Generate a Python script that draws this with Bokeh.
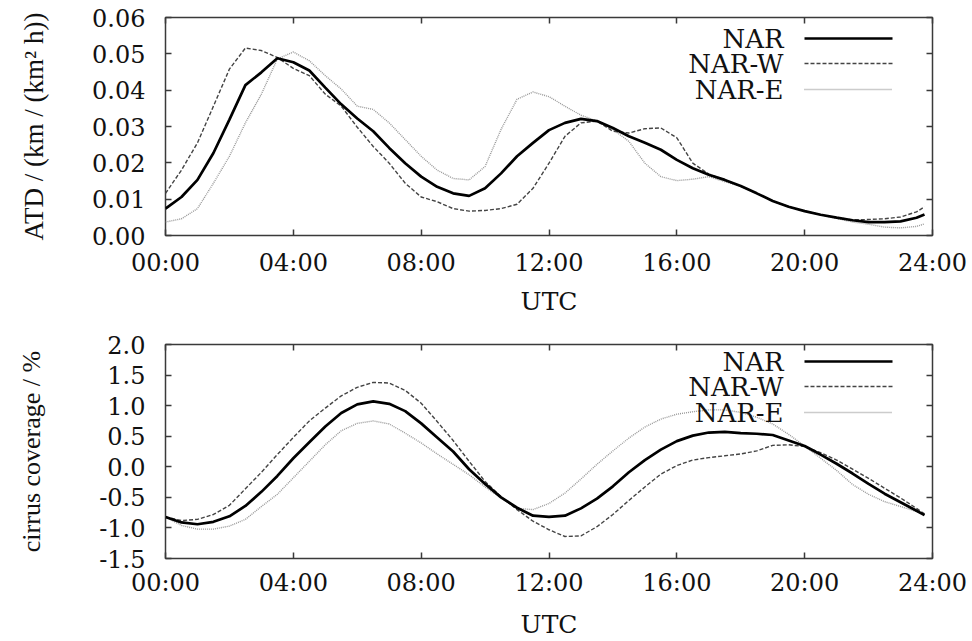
from bokeh.plotting import figure
from bokeh.models import FixedTicker, LinearAxis, Label, Arrow, Range1d, ColumnDataSource
from bokeh.layouts import column
from bokeh.embed import file_html
from bokeh.resources import INLINE

# ---------------- data ----------------
hours = [0.0, 0.5, 1.0, 1.5, 2.0, 2.5, 3.0, 3.5, 4.0, 4.5,
         5.0, 5.5, 6.0, 6.5, 7.0, 7.5, 8.0, 8.5, 9.0, 9.5,
         10.0, 10.5, 11.0, 11.5, 12.0, 12.5, 13.0, 13.5, 14.0, 14.5,
         15.0, 15.5, 16.0, 16.5, 17.0, 17.5, 18.0, 18.5, 19.0, 19.5,
         20.0, 20.5, 21.0, 21.5, 22.0, 22.5, 23.0, 23.5, 23.75]

series_names = ["NAR", "NAR-W", "NAR-E"]

atd_nar = [0.0074, 0.0106, 0.0153, 0.0227, 0.0319, 0.0414, 0.0449, 0.0488, 0.0477, 0.0454,
           0.0407, 0.0361, 0.0322, 0.0287, 0.0241, 0.0199, 0.0162, 0.0134, 0.0116, 0.0109,
           0.0130, 0.0171, 0.0218, 0.0255, 0.0290, 0.0310, 0.0321, 0.0315, 0.0296, 0.0273,
           0.0255, 0.0236, 0.0208, 0.0185, 0.0167, 0.0153, 0.0136, 0.0116, 0.0095, 0.0079,
           0.0067, 0.0057, 0.0049, 0.0042, 0.0037, 0.0037, 0.0039, 0.0049, 0.0058]
atd_w = [0.0116, 0.0180, 0.0255, 0.0356, 0.0458, 0.0516, 0.0509, 0.0490, 0.0460, 0.0440,
         0.0389, 0.0356, 0.0298, 0.0245, 0.0199, 0.0144, 0.0106, 0.0093, 0.0074, 0.0067,
         0.0069, 0.0074, 0.0086, 0.0130, 0.0199, 0.0273, 0.0310, 0.0315, 0.0287, 0.0282,
         0.0294, 0.0296, 0.0269, 0.0199, 0.0169, 0.0153, 0.0136, 0.0116, 0.0095, 0.0079,
         0.0067, 0.0057, 0.0049, 0.0043, 0.0044, 0.0046, 0.0051, 0.0065, 0.0079]
atd_e = [0.0037, 0.0046, 0.0074, 0.0144, 0.0218, 0.0310, 0.0389, 0.0486, 0.0505, 0.0481,
         0.0440, 0.0403, 0.0356, 0.0347, 0.0310, 0.0264, 0.0218, 0.0180, 0.0157, 0.0153,
         0.0190, 0.0292, 0.0375, 0.0395, 0.0382, 0.0356, 0.0331, 0.0315, 0.0292, 0.0259,
         0.0199, 0.0162, 0.0151, 0.0155, 0.0162, 0.0148, 0.0136, 0.0116, 0.0095, 0.0079,
         0.0067, 0.0057, 0.0047, 0.0037, 0.0031, 0.0023, 0.0021, 0.0025, 0.0032]

cc_nar = [-0.82, -0.91, -0.94, -0.90, -0.81, -0.64, -0.41, -0.15, 0.14, 0.40,
          0.66, 0.88, 1.02, 1.07, 1.03, 0.91, 0.71, 0.48, 0.25, -0.04,
          -0.28, -0.50, -0.67, -0.80, -0.82, -0.80, -0.68, -0.52, -0.32, -0.09,
          0.11, 0.28, 0.42, 0.51, 0.56, 0.57, 0.55, 0.54, 0.52, 0.43,
          0.34, 0.20, 0.05, -0.11, -0.28, -0.44, -0.58, -0.72, -0.79]
cc_w = [-0.82, -0.88, -0.86, -0.78, -0.63, -0.36, -0.09, 0.20, 0.48, 0.75,
        0.96, 1.16, 1.30, 1.38, 1.37, 1.25, 1.04, 0.74, 0.43, 0.09,
        -0.24, -0.49, -0.70, -0.89, -1.03, -1.14, -1.13, -0.98, -0.78, -0.55,
        -0.33, -0.12, 0.02, 0.11, 0.15, 0.18, 0.21, 0.26, 0.35, 0.36,
        0.33, 0.23, 0.11, -0.04, -0.19, -0.35, -0.51, -0.68, -0.77]
cc_e = [-0.82, -0.96, -1.02, -1.02, -0.97, -0.86, -0.65, -0.45, -0.18, 0.09,
        0.36, 0.59, 0.71, 0.75, 0.70, 0.55, 0.39, 0.21, 0.04, -0.13,
        -0.33, -0.51, -0.68, -0.70, -0.60, -0.43, -0.20, 0.04, 0.26, 0.47,
        0.65, 0.78, 0.86, 0.90, 0.93, 0.93, 0.89, 0.81, 0.70, 0.53,
        0.34, 0.14, -0.06, -0.29, -0.45, -0.57, -0.65, -0.73, -0.78]

x_ticks = [0, 4, 8, 12, 16, 20, 24]
x_tick_labels = ["00:00", "04:00", "08:00", "12:00", "16:00", "20:00", "24:00"]
atd_ticks = [0.0, 0.01, 0.02, 0.03, 0.04, 0.05, 0.06]
atd_tick_labels = ["0.00", "0.01", "0.02", "0.03", "0.04", "0.05", "0.06"]
cc_ticks = [-1.5, -1.0, -0.5, 0.0, 0.5, 1.0, 1.5, 2.0]
cc_tick_labels = ["-1.5", "-1.0", "-0.5", "0.0", "0.5", "1.0", "1.5", "2.0"]

x_label = "UTC"
atd_label = "ATD / (km / (km\u00b2 h))"
cc_label = "cirrus coverage / %"

# ---------------- styles ----------------
FONT_H = "DejaVu Serif"
FONT_V = "Liberation Serif"
FRAME_COL = "#3a3a3a"
styles = {
    "NAR": dict(line_color="black", line_width=2.7, line_dash="solid"),
    "NAR-W": dict(line_color="#444444", line_width=1.4, line_dash="4 2"),
    "NAR-E": dict(line_color="#999999", line_width=1.4, line_dash="1 1"),
}


def style_axis(ax, hidden=False):
    ax.axis_line_color = None
    ax.major_tick_in = 6
    ax.major_tick_out = 0
    ax.minor_tick_line_color = None
    ax.major_tick_line_color = FRAME_COL
    ax.major_tick_line_width = 1.5
    if hidden:
        ax.major_label_text_color = None
        ax.major_label_standoff = 0
        ax.axis_label = None
    else:
        ax.major_label_text_font = FONT_H
        ax.major_label_text_font_size = "24px"
        ax.major_label_text_color = "#111111"
        ax.axis_label_text_color = "#111111"
        ax.axis_label_text_font_style = "normal"


def make_panel(ys, yr, yticks, ylabels, ylabel, ylabsize, height, top, bottom,
               xstand, xlabstand, ylabstand):
    p = figure(width=972, height=height, output_backend="svg", toolbar_location=None,
               x_range=Range1d(0, 24), y_range=Range1d(*yr),
               min_border_left=165, min_border_right=40,
               min_border_top=top, min_border_bottom=bottom)
    p.xgrid.visible = False
    p.ygrid.visible = False
    p.outline_line_color = FRAME_COL
    p.outline_line_width = 1.5
    p.background_fill_color = "white"
    p.border_fill_color = "white"

    src = ColumnDataSource(dict(h=hours, a=ys[0], b=ys[1], c=ys[2]))
    for col, name in [("c", "NAR-E"), ("b", "NAR-W"), ("a", "NAR")]:
        p.line("h", col, source=src, **styles[name])

    # main axes
    xa = p.xaxis[0]
    style_axis(xa)
    xa.ticker = FixedTicker(ticks=x_ticks)
    xa.major_label_overrides = {t: l for t, l in zip(x_ticks, x_tick_labels)}
    xa.major_label_standoff = xstand
    xa.axis_label = x_label
    xa.axis_label_text_font = FONT_H
    xa.axis_label_text_font_size = "25px"
    xa.axis_label_standoff = xlabstand

    ya = p.yaxis[0]
    style_axis(ya)
    ya.ticker = FixedTicker(ticks=yticks)
    ya.major_label_overrides = {t: l for t, l in zip(yticks, ylabels)}
    ya.major_label_standoff = 20
    ya.axis_label = ylabel
    ya.axis_label_text_font = FONT_V
    ya.axis_label_text_font_size = ylabsize
    ya.axis_label_standoff = ylabstand

    # mirrored ticks on top and right
    xt = LinearAxis(ticker=FixedTicker(ticks=x_ticks))
    style_axis(xt, hidden=True)
    p.add_layout(xt, "above")
    yt = LinearAxis(ticker=FixedTicker(ticks=yticks))
    style_axis(yt, hidden=True)
    p.add_layout(yt, "right")

    # legend: label on the left, line sample on the right
    rows_y = [197, 172, 146]
    for name, ry in zip(series_names, rows_y):
        p.add_layout(Label(x=618, y=ry, x_units="screen", y_units="screen", text=name,
                           text_align="right", text_baseline="middle",
                           text_font=FONT_H, text_font_size="26px", text_color="#111111"))
        st = styles[name]
        p.add_layout(Arrow(end=None, x_start=639, y_start=ry, x_end=727, y_end=ry,
                           start_units="screen", end_units="screen",
                           line_color=st["line_color"], line_width=st["line_width"],
                           line_dash=st["line_dash"]))
    return p


p1 = make_panel([atd_nar, atd_w, atd_e], (0.0, 0.06), atd_ticks, atd_tick_labels,
                atd_label, "27px", 320, 17, 85, 13, 7, 40)
p2 = make_panel([cc_nar, cc_w, cc_e], (-1.5, 2.0), cc_ticks, cc_tick_labels,
                cc_label, "26px", 321, 24, 79, 10, 10, 50)

layout = column(p1, p2, spacing=0)
open("out.html", "w").write(file_html(layout, INLINE))
